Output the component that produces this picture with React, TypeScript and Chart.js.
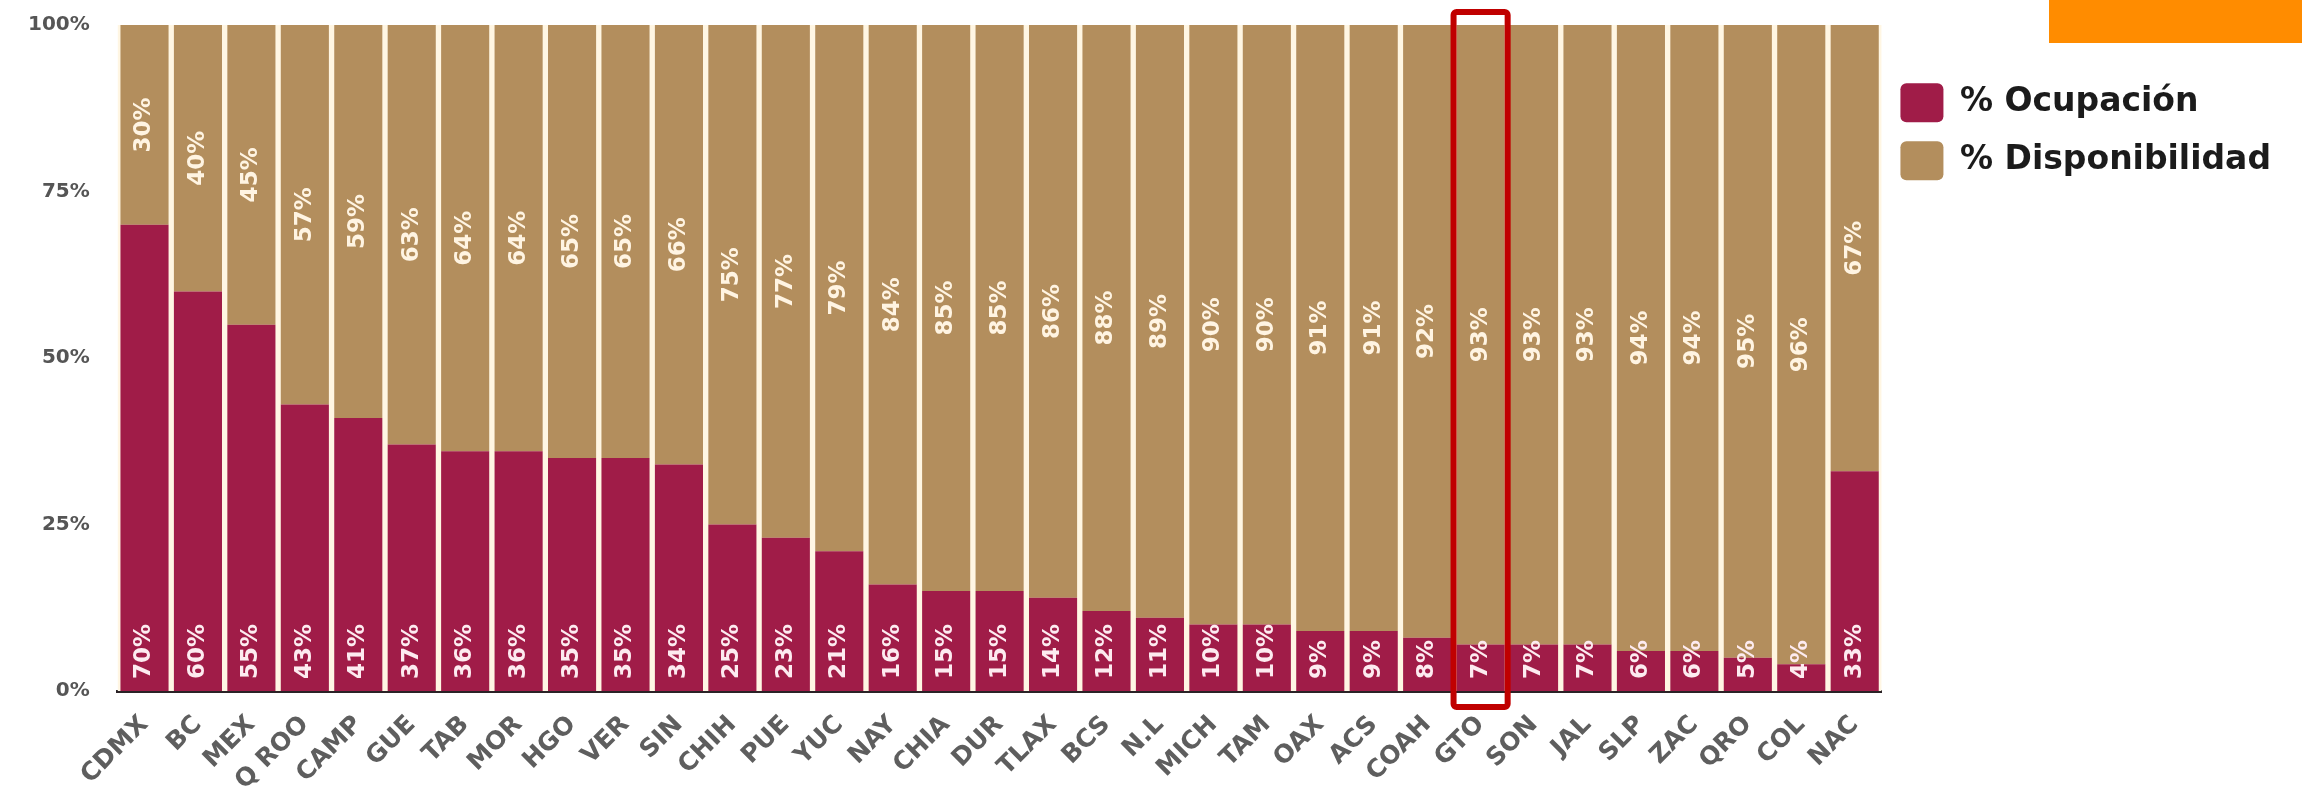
import { useEffect, useRef } from "react";
import { Chart, registerables } from "chart.js";

Chart.register(...registerables);

const categories = ["CDMX", "BC", "MEX", "Q ROO", "CAMP", "GUE", "TAB", "MOR", "HGO", "VER", "SIN", "CHIH", "PUE", "YUC", "NAY", "CHIA", "DUR", "TLAX", "BCS", "N.L", "MICH", "TAM", "OAX", "ACS", "COAH", "GTO", "SON", "JAL", "SLP", "ZAC", "QRO", "COL", "NAC"];
const ocupacion = [70, 60, 55, 43, 41, 37, 36, 36, 35, 35, 34, 25, 23, 21, 16, 15, 15, 14, 12, 11, 10, 10, 9, 9, 8, 7, 7, 7, 6, 6, 5, 4, 33];
const disponibilidad = [30, 40, 45, 57, 59, 63, 64, 64, 65, 65, 66, 75, 77, 79, 84, 85, 85, 86, 88, 89, 90, 90, 91, 91, 92, 93, 93, 93, 94, 94, 95, 96, 67];
const seriesNames = ["% Ocupación", "% Disponibilidad"];
const yTickStep = 25;
const highlightedCategory = "GTO";

const COLOR_OCUP = "#A01C48";
const COLOR_DISP = "#B38E5D";
const LABEL_COLORS = ["#FDEBF0", "#FFF4E2"];
const FONT = "'DejaVu Sans', sans-serif";
const LAYOUT_RIGHT = 10;
const LEGEND_GAP = 11;
const X_AXIS_HEIGHT = 101;

const plotBackground = {
  id: "plotBackground",
  beforeDatasetsDraw(chart: any) {
    const { ctx, chartArea } = chart;
    ctx.save();
    ctx.fillStyle = "#FFF6E3";
    ctx.fillRect(chartArea.left, chartArea.top, chartArea.right - chartArea.left, chartArea.bottom - chartArea.top);
    ctx.restore();
  },
};

const valueLabels = {
  id: "valueLabels",
  afterDatasetsDraw(chart: any) {
    const ctx = chart.ctx;
    ctx.save();
    ctx.font = `bold 23px ${FONT}`;
    chart.data.datasets.forEach((ds: any, di: number) => {
      const meta = chart.getDatasetMeta(di);
      ctx.fillStyle = LABEL_COLORS[di];
      meta.data.forEach((bar: any, i: number) => {
        const text = `${ds.data[i]}%`;
        const { x, y, base } = bar.getProps(["x", "y", "base"], true);
        ctx.save();
        if (di === 0) {
          ctx.translate(x, base - 12);
          ctx.rotate(-Math.PI / 2);
          ctx.textAlign = "left";
        } else {
          ctx.translate(x, (y + base) / 2);
          ctx.rotate(-Math.PI / 2);
          ctx.textAlign = "center";
        }
        ctx.textBaseline = "middle";
        ctx.fillText(text, 0, 0);
        ctx.restore();
      });
    });
    ctx.restore();
  },
};

const highlightBox = {
  id: "highlightBox",
  afterDraw(chart: any) {
    const idx = categories.indexOf(highlightedCategory);
    if (idx < 0) return;
    const bar: any = chart.getDatasetMeta(1).data[idx];
    const { x, width } = bar.getProps(["x", "width"], true);
    const area = chart.chartArea;
    const ctx = chart.ctx;
    const half = width / 2 + 3;
    ctx.save();
    ctx.strokeStyle = "#C00000";
    ctx.lineWidth = 6;
    ctx.beginPath();
    ctx.roundRect(x - half, area.top - 13, half * 2, area.bottom - area.top + 29, 3);
    ctx.stroke();
    ctx.restore();
  },
};

export default function App() {
  const canvasRef = useRef<HTMLCanvasElement | null>(null);

  useEffect(() => {
    if (!canvasRef.current) return;
    const chart = new Chart(canvasRef.current, {
      type: "bar",
      data: {
        labels: categories,
        datasets: [
          {
            label: seriesNames[0],
            data: ocupacion,
            backgroundColor: COLOR_OCUP,
            borderWidth: 0,
            barPercentage: 0.9,
            categoryPercentage: 1,
          },
          {
            label: seriesNames[1],
            data: disponibilidad,
            backgroundColor: COLOR_DISP,
            borderWidth: 0,
            barPercentage: 0.9,
            categoryPercentage: 1,
          },
        ],
      },
      options: {
        animation: false,
        responsive: true,
        maintainAspectRatio: false,
        layout: { padding: { left: 0, top: 25, right: LAYOUT_RIGHT, bottom: 0 } },
        plugins: {
          tooltip: { enabled: false },
          legend: {
            position: "right",
            align: "start",
            title: { display: true, text: " ", font: { size: 1 }, padding: { top: 38, bottom: 0 } },
            labels: {
              boxWidth: 43,
              boxHeight: 39,
              padding: 19,
              useBorderRadius: true,
              borderRadius: 6,
              color: "#1b1b1b",
              font: { family: FONT, size: 33, weight: "bold" },
            },
          },
        },
        scales: {
          x: {
            stacked: true,
            grid: { display: false, drawTicks: false },
            border: { display: true, color: "#2a2226", width: 3 },
            afterFit: (s: any) => {
              const legendWidth = s.chart.legend ? s.chart.legend.width : 0;
              s.height = X_AXIS_HEIGHT;
              s.paddingLeft = 0;
              s.paddingRight = legendWidth + LAYOUT_RIGHT + LEGEND_GAP;
            },
            ticks: {
              minRotation: 45,
              maxRotation: 45,
              autoSkip: false,
              padding: 19,
              color: "#5e5e5e",
              font: { family: FONT, size: 25, weight: "bold" },
            },
          },
          y: {
            stacked: true,
            min: 0,
            max: 100,
            grid: { display: false, drawTicks: false },
            border: { display: false },
            afterFit: (s: any) => {
              s.paddingTop = 0;
              s.paddingBottom = 0;
            },
            ticks: {
              stepSize: yTickStep,
              padding: 28,
              color: "#555555",
              font: { family: FONT, size: 20, weight: "bold" },
              callback: (v: any) => `${v}%`,
            },
          },
        },
      },
      plugins: [plotBackground, valueLabels, highlightBox],
    });
    return () => chart.destroy();
  }, []);

  return (
    <div style={{ position: "fixed", left: 0, top: 0, width: 2302, height: 792, background: "#ffffff" }}>
      <canvas ref={canvasRef} />
      <div style={{ position: "absolute", left: 2049, top: 0, width: 253, height: 43, background: "#FF8C00" }} />
    </div>
  );
}
